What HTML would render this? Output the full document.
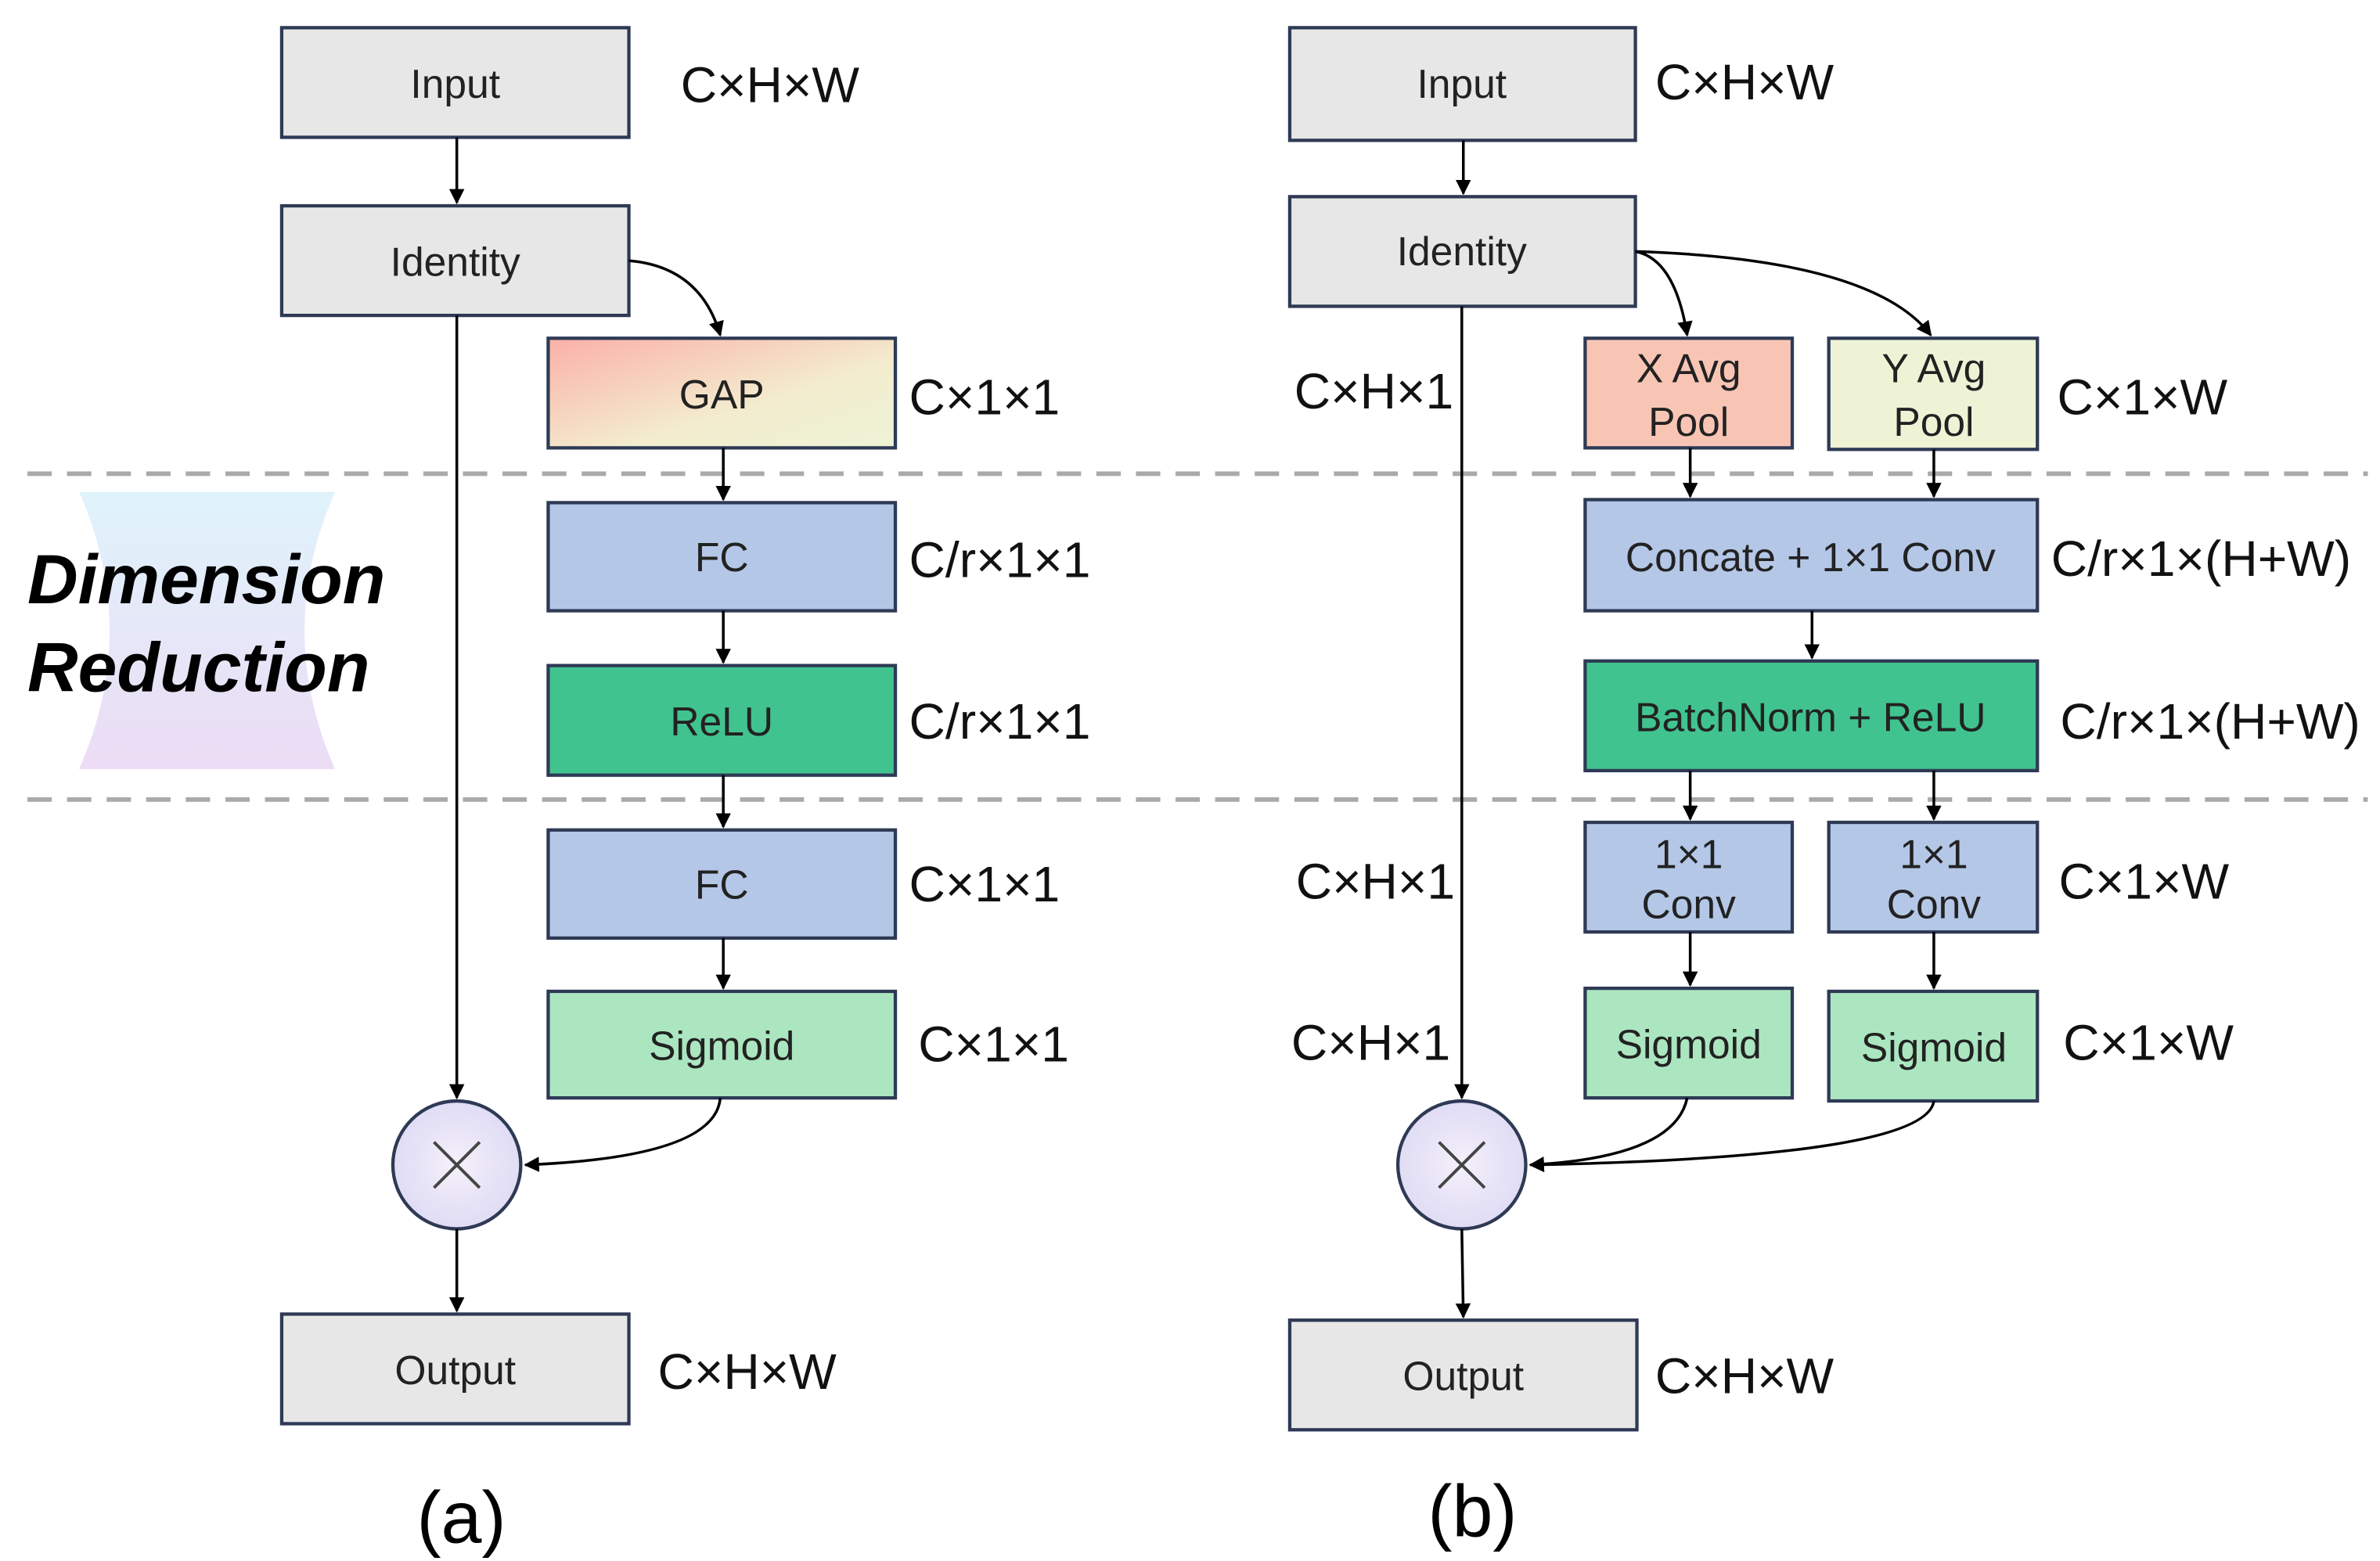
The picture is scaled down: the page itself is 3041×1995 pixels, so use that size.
<!DOCTYPE html>
<html><head><meta charset="utf-8"><style>
html,body{margin:0;padding:0;background:#fff;}
svg{display:block;}
text{font-family:"Liberation Sans","DejaVu Sans",sans-serif;}
</style></head><body>
<svg width="3041" height="1995" viewBox="0 0 1563 1025" xmlns="http://www.w3.org/2000/svg">
<defs>
<linearGradient id="gap" x1="0" y1="0" x2="1" y2="1"><stop offset="0" stop-color="#fbb0a8"/><stop offset="0.6" stop-color="#f3ecce"/><stop offset="1" stop-color="#eef3d6"/></linearGradient>
<linearGradient id="hg" x1="0" y1="0" x2="0" y2="1"><stop offset="0" stop-color="#dff3fb"/><stop offset="1" stop-color="#ecdcf5"/></linearGradient>
<radialGradient id="circ" cx="0.5" cy="0.5" r="0.6"><stop offset="0" stop-color="#f4f0fb"/><stop offset="1" stop-color="#dcd8f3"/></radialGradient>
<marker id="ar" markerWidth="10" markerHeight="10" refX="9" refY="5" orient="auto" markerUnits="userSpaceOnUse"><path d="M0,0 L10,5 L0,10 z" fill="#000"/></marker>
</defs>
<line x1="18" y1="311" x2="1555" y2="311" stroke="#aaa" stroke-width="3" stroke-dasharray="16,10"/>
<line x1="18" y1="525" x2="1555" y2="525" stroke="#aaa" stroke-width="3" stroke-dasharray="16,10"/>
<path d="M52,323 L220,323 Q180,414 220,505 L52,505 Q92,414 52,323 Z" fill="url(#hg)"/>
<text x="18" y="396" font-size="46" font-weight="bold" font-style="italic">Dimension</text>
<text x="18" y="454" font-size="46" font-weight="bold" font-style="italic">Reduction</text>

<g stroke="#2e3a55" stroke-width="2.2">
<rect x="185" y="18" width="228" height="72" fill="#e7e7e7"/>
<rect x="185" y="135" width="228" height="72" fill="#e7e7e7"/>
<rect x="360" y="222" width="228" height="72" fill="url(#gap)"/>
<rect x="360" y="330" width="228" height="71" fill="#b4c7e7"/>
<rect x="360" y="437" width="228" height="72" fill="#41c38f"/>
<rect x="360" y="545" width="228" height="71" fill="#b4c7e7"/>
<rect x="360" y="651" width="228" height="70" fill="#abe6c0"/>
<rect x="185" y="863" width="228" height="72" fill="#e7e7e7"/>
<circle cx="300" cy="765" r="42" fill="url(#circ)"/>
<rect x="847" y="18" width="227" height="74" fill="#e7e7e7"/>
<rect x="847" y="129" width="227" height="72" fill="#e7e7e7"/>
<rect x="1041" y="222" width="136" height="72" fill="#f8c5b5"/>
<rect x="1201" y="222" width="137" height="73" fill="#eef3d6"/>
<rect x="1041" y="328" width="297" height="73" fill="#b4c7e7"/>
<rect x="1041" y="434" width="297" height="72" fill="#41c38f"/>
<rect x="1041" y="540" width="136" height="72" fill="#b4c7e7"/>
<rect x="1201" y="540" width="137" height="72" fill="#b4c7e7"/>
<rect x="1041" y="649" width="136" height="72" fill="#abe6c0"/>
<rect x="1201" y="651" width="137" height="72" fill="#abe6c0"/>
<rect x="847" y="867" width="228" height="72" fill="#e7e7e7"/>
<circle cx="960" cy="765" r="42" fill="url(#circ)"/>
</g>
<g stroke="#444" stroke-width="2">
<line x1="285" y1="750" x2="315" y2="780"/><line x1="315" y1="750" x2="285" y2="780"/>
<line x1="945" y1="750" x2="975" y2="780"/><line x1="975" y1="750" x2="945" y2="780"/>
</g>
<g stroke="#000" stroke-width="1.8" fill="none" marker-end="url(#ar)">
<line x1="300" y1="90" x2="300" y2="133"/>
<path d="M413,171 Q460,175 473,220"/>
<line x1="475" y1="294" x2="475" y2="328"/>
<line x1="475" y1="401" x2="475" y2="435"/>
<line x1="475" y1="509" x2="475" y2="543"/>
<line x1="475" y1="616" x2="475" y2="649"/>
<line x1="300" y1="207" x2="300" y2="721"/>
<path d="M473,721 Q470,760 345,765"/>
<line x1="300" y1="807" x2="300" y2="861"/>
<line x1="961" y1="92" x2="961" y2="127"/>
<path d="M1074,165 Q1100,170 1108,220"/>
<path d="M1074,165 Q1230,170 1268,220"/>
<line x1="1110" y1="294" x2="1110" y2="326"/>
<line x1="1270" y1="295" x2="1270" y2="326"/>
<line x1="1190" y1="401" x2="1190" y2="432"/>
<line x1="1110" y1="506" x2="1110" y2="538"/>
<line x1="1270" y1="506" x2="1270" y2="538"/>
<line x1="1110" y1="612" x2="1110" y2="647"/>
<line x1="1270" y1="612" x2="1270" y2="649"/>
<line x1="960" y1="201" x2="960" y2="721"/>
<path d="M1108,721 Q1100,760 1005,765"/>
<path d="M1270,723 Q1265,760 1005,765"/>
<line x1="960" y1="807" x2="961" y2="865"/>
</g>
<g font-size="26.5" text-anchor="middle" fill="#222">
<text x="299" y="64">Input</text>
<text x="299" y="181">Identity</text>
<text x="474" y="268">GAP</text>
<text x="474" y="375">FC</text>
<text x="474" y="483">ReLU</text>
<text x="474" y="590">FC</text>
<text x="474" y="696">Sigmoid</text>
<text x="299" y="909">Output</text>
<text x="960" y="64">Input</text>
<text x="960" y="174">Identity</text>
<text x="1109" y="251">X Avg</text>
<text x="1109" y="286">Pool</text>
<text x="1270" y="251">Y Avg</text>
<text x="1270" y="286">Pool</text>
<text x="1189" y="375">Concate + 1×1 Conv</text>
<text x="1189" y="480">BatchNorm + ReLU</text>
<text x="1109" y="570">1×1</text>
<text x="1109" y="603">Conv</text>
<text x="1270" y="570">1×1</text>
<text x="1270" y="603">Conv</text>
<text x="1109" y="695">Sigmoid</text>
<text x="1270" y="697">Sigmoid</text>
<text x="961" y="913">Output</text>
</g>
<g font-size="33" fill="#111">
<text x="447" y="67">C×H×W</text>
<text x="597" y="272">C×1×1</text>
<text x="597" y="379">C/r×1×1</text>
<text x="597" y="485">C/r×1×1</text>
<text x="597" y="592">C×1×1</text>
<text x="603" y="697">C×1×1</text>
<text x="432" y="912">C×H×W</text>
<text x="1087" y="65">C×H×W</text>
<text x="850" y="268">C×H×1</text>
<text x="1351" y="272">C×1×W</text>
<text x="1347" y="378">C/r×1×(H+W)</text>
<text x="1353" y="485">C/r×1×(H+W)</text>
<text x="851" y="590">C×H×1</text>
<text x="1352" y="590">C×1×W</text>
<text x="848" y="696">C×H×1</text>
<text x="1355" y="696">C×1×W</text>
<text x="1087" y="915">C×H×W</text>
</g>
<text x="303" y="1013" font-size="48" text-anchor="middle">(a)</text>
<text x="967" y="1009" font-size="48" text-anchor="middle">(b)</text>
</svg>
</body></html>
